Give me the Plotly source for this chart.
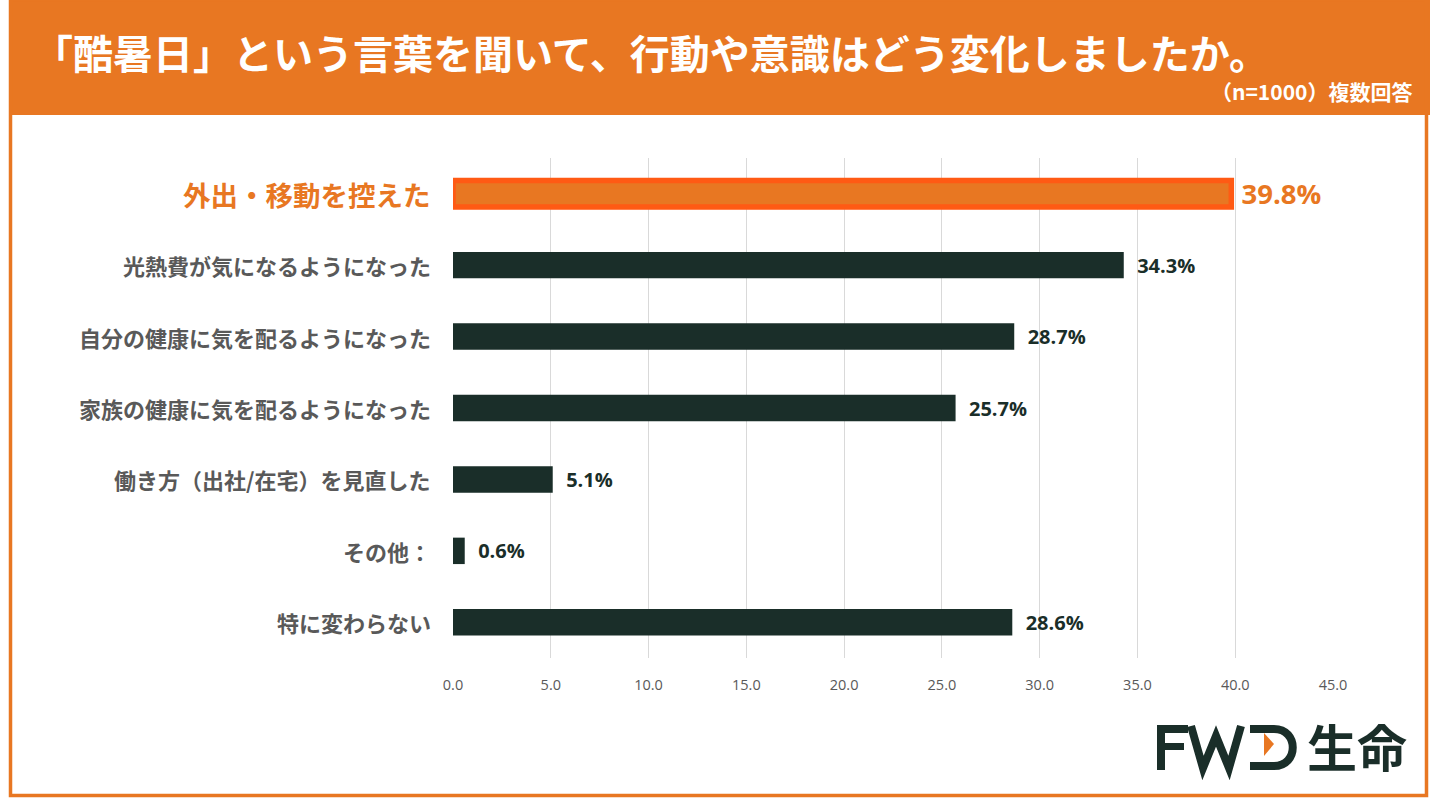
import plotly.graph_objects as go

# data
categories = [
    "外出・移動を控えた",
    "光熱費が気になるようになった",
    "自分の健康に気を配るようになった",
    "家族の健康に気を配るようになった",
    "働き方（出社/在宅）を見直した",
    "その他：",
    "特に変わらない",
]
values = [39.8, 34.3, 28.7, 25.7, 5.1, 0.6, 28.6]
x_ticks = [0, 5, 10, 15, 20, 25, 30, 35, 40, 45]

title_text = "「酷暑日」という言葉を聞いて、行動や意識はどう変化しましたか。"
sub_text = "（n=1000）複数回答"

ORANGE = "#E87722"
EDGE = "#FF5A14"
DARK = "#1A2E29"
GRAY = "#595959"
JP = "Noto Sans CJK JP"

W, H = 1430, 798
L, R, T, B = 453, 97, 158, 140
pw, ph = W - L - R, H - T - B


def px(x):
    return (x - L) / pw


def py(y):
    return (H - B - y) / ph


def path(points, close=False):
    s = "M" + " L".join("%.5f,%.5f" % (px(a), py(b)) for a, b in points)
    return s + (" Z" if close else "")


n = len(values)
bar_colors = [ORANGE] + [DARK] * (n - 1)
line_colors = [EDGE] + [DARK] * (n - 1)
line_widths = [5.5] + [0] * (n - 1)
txt_colors = [ORANGE] + [DARK] * (n - 1)
txt_sizes = [27.5] + [20] * (n - 1)
labels = [" %.1f%%" % values[0]] + ["  %.1f%%" % v for v in values[1:]]

fig = go.Figure()
fig.add_trace(go.Bar(
    y=categories,
    x=values,
    orientation="h",
    width=0.37,
    marker=dict(color=bar_colors, line=dict(color=line_colors, width=line_widths)),
    text=labels,
    textposition="outside",
    constraintext="none",
    textfont=dict(family="Open Sans", color=txt_colors, size=txt_sizes, weight="bold"),
    cliponaxis=False,
    hoverinfo="skip",
))

# category labels
for i, c in enumerate(categories):
    fig.add_annotation(
        x=0, xref="paper", y=c, yref="y",
        text=c, showarrow=False, xanchor="right", xshift=-20,
        font=dict(family=JP, size=27.5 if i == 0 else 22,
                  color=ORANGE if i == 0 else GRAY, weight="bold"),
    )

# header band and frame
fig.add_shape(type="rect", xref="paper", yref="paper",
              x0=px(9), x1=px(1432), y0=py(115), y1=py(-2),
              fillcolor=ORANGE, line_width=0, layer="below")
fig.add_shape(type="rect", xref="paper", yref="paper",
              x0=px(10.5), x1=px(1426.5), y0=py(795.5), y1=py(0),
              fillcolor="rgba(0,0,0,0)", line=dict(color=ORANGE, width=3.5))

fig.add_annotation(x=px(31), xref="paper", y=py(52), yref="paper",
                   text=title_text, showarrow=False, xanchor="left", yanchor="middle",
                   font=dict(family=JP, size=40, color="white", weight="bold"))
fig.add_annotation(x=px(1414), xref="paper", y=py(91), yref="paper",
                   text=sub_text, showarrow=False, xanchor="right", yanchor="middle",
                   font=dict(family=JP, size=21, color="white", weight="bold"))

# logo FWD生命
for x0, x1, y0, y1 in [(1157, 1165, 725, 770), (1157, 1188, 725, 733), (1157, 1184, 743, 750)]:
    fig.add_shape(type="rect", xref="paper", yref="paper",
                  x0=px(x0), x1=px(x1), y0=py(y1), y1=py(y0),
                  fillcolor=DARK, line_width=0)
fig.add_shape(type="path", xref="paper", yref="paper",
              path=path([(1191, 726), (1203, 768), (1216, 736), (1229, 768), (1241, 726)]),
              line=dict(color=DARK, width=8))
fig.add_shape(type="path", xref="paper", yref="paper",
              path="M%.5f,%.5f L%.5f,%.5f C%.5f,%.5f %.5f,%.5f %.5f,%.5f L%.5f,%.5f" % (
                  px(1250), py(729), px(1274), py(729),
                  px(1299), py(729), px(1299), py(766), px(1274), py(766),
                  px(1250), py(766)),
              line=dict(color=DARK, width=8))
fig.add_shape(type="path", xref="paper", yref="paper",
              path=path([(1264, 733), (1274, 744), (1264, 756)], close=True),
              fillcolor=ORANGE, line_width=0)
fig.add_annotation(x=px(1409), xref="paper", y=py(745), yref="paper",
                   text="生命", showarrow=False, xanchor="right", yanchor="middle",
                   font=dict(family=JP, size=50, color=DARK, weight="bold"))

fig.update_layout(
    width=W, height=H,
    margin=dict(l=L, r=R, t=T, b=B, pad=0),
    paper_bgcolor="white", plot_bgcolor="white",
    showlegend=False,
    xaxis=dict(
        range=[0, 45], tickvals=x_ticks, tickformat=".1f",
        showgrid=True, gridcolor="#D9D9D9", gridwidth=1,
        zeroline=False, showline=False,
        tickfont=dict(family="Open Sans", size=14.5, color=GRAY),
        ticks="", ticklabelstandoff=16,
    ),
    yaxis=dict(
        autorange="reversed", showticklabels=False, showgrid=False,
        zeroline=False, showline=False,
    ),
)

fig.write_html("out.html", config={"displayModeBar": False},
               post_script="document.body.style.margin='0';")
